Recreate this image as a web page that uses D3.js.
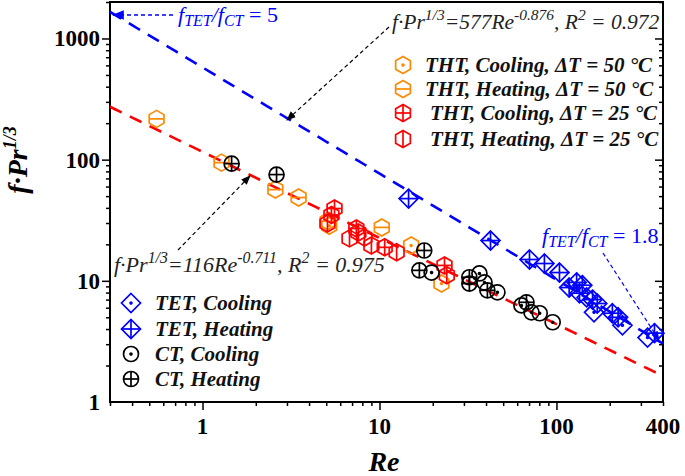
<!DOCTYPE html>
<html><head><meta charset="utf-8">
<script src="https://cdn.jsdelivr.net/npm/d3@7"></script>
<style>body{margin:0;background:#fff}svg{display:block}text{font-family:"Liberation Serif","Times New Roman",serif}</style>
</head><body><svg id="c" width="685" height="476"></svg>
<script>
// ---- data (Re, f·Pr^1/3) ----
const thtHeat50 = [[0.55,217],[1.28,94.5],[2.58,56.6],[3.49,48.7],[5.1,31],[10.3,27.6]];
const thtCool50 = [[15.1,19.6],[22.4,9.5],[5.2,28.5]];
const thtCool25 = [[5.57,39.5],[5.35,35],[7.4,27],[10.7,18.9],[23.3,13.4]];
const thtHeat25 = [[5.08,29.7],[6.77,22.4],[7.6,25],[8.23,22.8],[9.0,19.6],[12.5,17.2],[24,11.1]];
const ctHeat = [[1.46,92.7],[2.62,75.3],[17.9,17.8],[16.8,12.2],[32.2,10.7],[32.2,9.5],[40.7,8.35],[67.7,6.65]];
const ctCool = [[19.7,11.7],[36.7,11.5],[39.2,9.7],[46.4,8.04],[63.4,6.27],[72.2,5.5],[80.4,5.4],[95.2,4.55]];
const tetHeat = [[14.6,47.7],[42.4,21.5],[70.4,15.0],[85.5,13.9],[104,11.7],[118,8.8],[130,9.7],[140,9.2],[135,7.9],[160,7.0],[170,6.5],[207,5.4],[223,5.0],[358,3.7]];
const tetCool = [[148,7.3],[163,5.5],[236,4.3],[327,3.4]];
const fitTET = {a:577, b:-0.876};
const fitCT = {a:116, b:-0.711};
const xTicks = [1,10,100,400];
const yTicks = [1,10,100,1000];

const svg = d3.select("#c");
const L=110,R=663,T=2,B=402;
const x = d3.scaleLog().domain([0.3,400]).range([L,R]);
const y = d3.scaleLog().domain([1,2000]).range([B,T]);
const ORANGE="#ff8a00", RED="#ff0000", BLUE="#0000ff", BLACK="#000";

const minorX=[], minorY=[];
[0.1,1,10,100].forEach(d=>{for(let k=2;k<=9;k++){const v=d*k; if(v>=0.3&&v<=400) minorX.push(v);}});
[1,10,100,1000].forEach(d=>{for(let k=2;k<=9;k++){const v=d*k; if(v<=2000) minorY.push(v);}});

svg.append("rect").attr("x",L).attr("y",T).attr("width",R-L).attr("height",B-T).attr("fill","none").attr("stroke","#000").attr("stroke-width",2);

function styleAxis(g){g.select(".domain").remove();g.selectAll("line").attr("stroke","#000").attr("stroke-width",1.5);}
svg.append("g").attr("transform",`translate(0,${B})`).call(d3.axisBottom(x).tickValues(xTicks.filter(v=>v<400)).tickSize(8).tickFormat("")).call(styleAxis);
svg.append("g").attr("transform",`translate(0,${B})`).call(d3.axisBottom(x).tickValues(minorX).tickSize(4).tickFormat("")).call(styleAxis);
svg.append("g").selectAll("text").data(xTicks).join("text").attr("x",d=>x(d)).attr("y",434).attr("text-anchor","middle")
 .attr("font-size",23).attr("font-weight","bold").text(d=>d);
svg.append("g").attr("transform",`translate(${L},0)`).call(d3.axisLeft(y).tickValues(yTicks.filter(v=>v>1)).tickSize(8).tickFormat("")).call(styleAxis);
svg.append("g").attr("transform",`translate(${L},0)`).call(d3.axisLeft(y).tickValues(minorY).tickSize(4).tickFormat("")).call(styleAxis);
svg.append("g").selectAll("text").data(yTicks).join("text").attr("x",100).attr("y",d=>y(d)+8).attr("text-anchor","end")
 .attr("font-size",23).attr("font-weight","bold").text(d=>d);
svg.append("g").attr("transform",`translate(${R},0)`).call(d3.axisLeft(y).tickValues(yTicks.filter(v=>v>1)).tickSize(8).tickFormat("")).call(styleAxis);
svg.append("g").attr("transform",`translate(${R},0)`).call(d3.axisLeft(y).tickValues(minorY).tickSize(4).tickFormat("")).call(styleAxis);

svg.append("text").attr("x",384).attr("y",471).attr("text-anchor","middle").attr("font-size",28).attr("font-weight","bold").attr("font-style","italic").text("Re");
const yl = svg.append("text").attr("transform","translate(27,160) rotate(-90)").attr("text-anchor","middle").attr("font-size",28).attr("font-weight","bold").attr("font-style","italic");
yl.append("tspan").text("f·Pr");
yl.append("tspan").attr("dy",-11).attr("font-size",18).text("1/3");

svg.append("clipPath").attr("id","clip").append("rect").attr("x",L).attr("y",T).attr("width",R-L).attr("height",B-T);

const res = d3.range(0,101).map(i=>0.3*Math.pow(400/0.3,i/100));
function fitPath(f,color){
  svg.append("path").attr("clip-path","url(#clip)").attr("fill","none").attr("stroke",color).attr("stroke-width",2.6).attr("stroke-dasharray","13,9")
   .attr("d",d3.line().x(d=>x(d)).y(d=>y(f.a*Math.pow(d,f.b)))(res));
}
fitPath(fitTET,BLUE);
fitPath(fitCT,RED);

function hexPts(r){return d3.range(6).map(i=>{const a=Math.PI/2+i*Math.PI/3;return [r*Math.cos(a),r*Math.sin(a)];});}
function drawMarker(g,type,cx,cy){
  const s = g.append("g").attr("transform",`translate(${cx},${cy})`).attr("fill","none").attr("stroke-width",1.7);
  let col, r;
  if(type.startsWith("tht")){
    col = type.endsWith("50")?ORANGE:RED; r=8.5;
    s.attr("stroke",col);
    s.append("polygon").attr("points",hexPts(r).map(p=>p.join(",")).join(" "));
    if(type==="thtCool50") s.append("circle").attr("r",0.9).attr("fill",col);
    if(type==="thtHeat50"||type==="thtCool25") s.append("line").attr("x1",-r*0.866).attr("x2",r*0.866);
    if(type==="thtHeat25"||type==="thtCool25") s.append("line").attr("y1",-r).attr("y2",r);
  } else if(type.startsWith("tet")){
    col=BLUE; r=9.5; s.attr("stroke",col);
    s.append("polygon").attr("points",`0,${-r} ${r},0 0,${r} ${-r},0`);
    if(type==="tetCool") s.append("circle").attr("r",0.9).attr("fill",col);
    else { s.append("line").attr("x1",-r).attr("x2",r); s.append("line").attr("y1",-r).attr("y2",r); }
  } else {
    col=BLACK; r=7.5; s.attr("stroke",col);
    s.append("circle").attr("r",r);
    if(type==="ctCool") s.append("circle").attr("r",0.9).attr("fill",col);
    else { s.append("line").attr("x1",-r).attr("x2",r); s.append("line").attr("y1",-r).attr("y2",r); }
  }
}
const pg = svg.append("g");
const sets = [["thtHeat50",thtHeat50],["thtCool50",thtCool50],["thtHeat25",thtHeat25],["thtCool25",thtCool25],["ctCool",ctCool],["ctHeat",ctHeat],["tetCool",tetCool],["tetHeat",tetHeat]];
sets.forEach(([t,arr])=>arr.forEach(d=>drawMarker(pg,t,x(d[0]),y(d[1]))));

const defs = svg.append("defs");
function arrowDef(id,color){
  defs.append("marker").attr("id",id).attr("viewBox","0 0 10 10").attr("refX",9).attr("refY",5).attr("markerWidth",8).attr("markerHeight",8).attr("orient","auto-start-reverse")
   .append("path").attr("d","M0,1 L10,5 L0,9 Z").attr("fill",color);
}
arrowDef("ab",BLACK); arrowDef("abl",BLUE);
function arrow(x1,y1,x2,y2,color,id,w){
  svg.append("line").attr("x1",x1).attr("y1",y1).attr("x2",x2).attr("y2",y2).attr("stroke",color).attr("stroke-width",w||1.2).attr("stroke-dasharray","4,3").attr("marker-end",`url(#${id})`);
}
arrow(389,27,287,120,BLACK,"ab");
arrow(178,250,250,176,BLACK,"ab");
arrow(173,15,113,15,BLUE,"abl",1.5);
arrow(603,253,659,340,BLUE,"abl",1.2);

function formula(xp,yp,coef,exp,r2,fs){
  const t = svg.append("text").attr("x",xp).attr("y",yp).attr("font-size",fs).attr("font-style","italic").attr("fill","#222");
  t.append("tspan").text("f·Pr");
  t.append("tspan").attr("dy",-9).attr("font-size",fs*0.72).text("1/3");
  t.append("tspan").attr("dy",9).text("="+coef+"Re");
  t.append("tspan").attr("dy",-9).attr("font-size",fs*0.72).text(exp);
  t.append("tspan").attr("dy",9).text(", R");
  t.append("tspan").attr("dy",-9).attr("font-size",fs*0.72).text("2");
  t.append("tspan").attr("dy",9).text(" = "+r2);
}
formula(392,29,"577","-0.876","0.972",21.5);
formula(114,272,"116","-0.711","0.975",22);

function ratio(xp,yp,val){
  const t = svg.append("text").attr("x",xp).attr("y",yp).attr("font-size",22).attr("fill",BLUE);
  t.append("tspan").attr("font-style","italic").text("f");
  t.append("tspan").attr("dy",4).attr("font-size",16).attr("font-style","italic").text("TET");
  t.append("tspan").attr("dy",-4).attr("font-style","italic").text("/f");
  t.append("tspan").attr("dy",4).attr("font-size",16).attr("font-style","italic").text("CT");
  t.append("tspan").attr("dy",-4).text(" = "+val);
}
ratio(178,22,"5");
ratio(542,243,"1.8");

const legTop = [["thtCool50","THT, Cooling, ΔT = 50 °C",65,425],["thtHeat50","THT, Heating, ΔT = 50 °C",89,425],["thtCool25","THT, Cooling, ΔT = 25 °C",113,430],["thtHeat25","THT, Heating, ΔT = 25 °C",139,430]];
legTop.forEach(([t,lab,yy,tx])=>{
  drawMarker(svg,t,403,yy);
  svg.append("text").attr("x",tx).attr("y",yy+7).attr("font-size",21).attr("font-weight","bold").attr("font-style","italic").attr("fill","#111").text(lab);
});
const legBot = [["tetCool","TET, Cooling",303],["tetHeat","TET, Heating",329],["ctCool","CT, Cooling",354],["ctHeat","CT, Heating",379]];
legBot.forEach(([t,lab,yy])=>{
  drawMarker(svg,t,131,yy);
  svg.append("text").attr("x",155).attr("y",yy+7).attr("font-size",21).attr("font-weight","bold").attr("font-style","italic").attr("fill","#111").text(lab);
});
</script></body></html>
